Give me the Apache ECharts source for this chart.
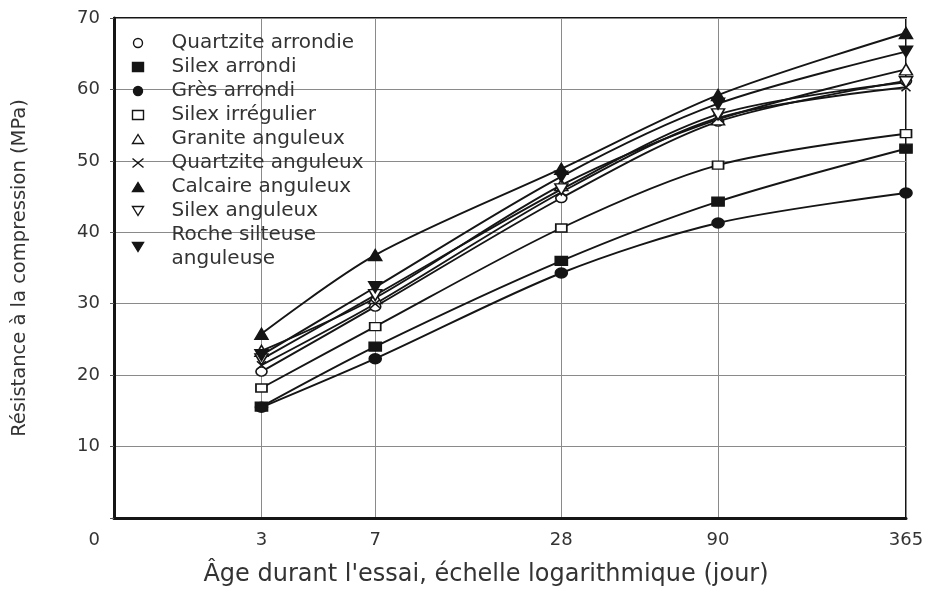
<!DOCTYPE html>
<html><head><meta charset="utf-8">
<script src="https://cdn.jsdelivr.net/npm/echarts@6/dist/echarts.min.js"></script>
<style>html,body{margin:0;padding:0;background:#fff}#c{width:928px;height:592px}</style>
</head><body><div id="c"></div>
<script>
// ---- data ----
const days = [3, 7, 28, 90, 365];
const xTickLabels = [3, 7, 28, 90, 365];
const seriesNames = ['Quartzite arrondie', 'Silex arrondi', 'Grès arrondi', 'Silex irrégulier',
  'Granite anguleux', 'Quartzite anguleux', 'Calcaire anguleux', 'Silex anguleux', 'Roche silteuse anguleuse'];
const quartziteArrondie = [20.5, 29.6, 44.8, 55.5, 61.2];
const silexArrondi      = [15.6, 24.0, 36.0, 44.3, 51.7];
const gresArrondi       = [15.5, 22.3, 34.3, 41.3, 45.5];
const silexIrregulier   = [18.2, 26.8, 40.6, 49.4, 53.8];
const graniteAnguleux   = [23.4, 30.8, 46.6, 55.8, 62.8];
const quartziteAnguleux = [21.4, 30.0, 45.6, 56.0, 60.3];
const calcaireAnguleux  = [25.8, 36.8, 48.9, 59.2, 67.9];
const silexAnguleux     = [22.2, 31.2, 46.0, 56.5, 61.0];
const rocheSilteuse     = [22.8, 32.3, 47.8, 58.0, 65.3];
const seriesValues = [quartziteArrondie, silexArrondi, gresArrondi, silexIrregulier,
  graniteAnguleux, quartziteAnguleux, calcaireAnguleux, silexAnguleux, rocheSilteuse];

// ---- styles ----
const FONT = 'DejaVu Sans';
const TXT = '#333';
const INK = '#151515';
const CROSS = 'path://M0,0L10,10M10,0L0,10';
const INV = 'path://M0,0L10,0L5,8.66Z';
const markerStyles = [
  {symbol: 'circle', fill: '#fff', size: [11, 9]},
  {symbol: 'rect', fill: INK, size: [12, 9]},
  {symbol: 'circle', fill: INK, size: [12, 10]},
  {symbol: 'rect', fill: '#fff', size: [11, 8]},
  {symbol: 'triangle', fill: '#fff', size: [13, 11]},
  {symbol: CROSS, fill: 'none', size: [9, 8]},
  {symbol: 'triangle', fill: INK, size: [13, 11]},
  {symbol: INV, fill: '#fff', size: [13, 11]},
  {symbol: INV, fill: INK, size: [13, 11]}
];

const chart = echarts.init(document.getElementById('c'));
const series = seriesNames.map((name, i) => ({
  name, type: 'line',
  data: days.map((d, j) => [d, seriesValues[i][j]]),
  smooth: 0.3,
  symbol: markerStyles[i].symbol,
  symbolSize: markerStyles[i].size,
  symbolKeepAspect: false,
  showAllSymbol: true,
  lineStyle: {color: INK, width: 1.9},
  itemStyle: {color: markerStyles[i].fill, borderColor: INK, borderWidth: 1.5},
  emphasis: {disabled: true},
  z: 3
}));

chart.setOption({
  animation: false,
  backgroundColor: '#fff',
  grid: {left: 114, right: 22, top: 18, bottom: 70, show: true, borderColor: INK, borderWidth: 2},
  legend: {
    orient: 'vertical', left: 125, top: 26, itemWidth: 11, itemHeight: 9, itemGap: 0,
    symbolKeepAspect: false, selectedMode: false,
    formatter: n => n === 'Roche silteuse anguleuse' ? 'Roche silteuse\nanguleuse' : n,
    textStyle: {fontFamily: FONT, fontSize: 20, color: TXT, lineHeight: 24, padding: [0, 0, 0, 23]},
    data: seriesNames.map((n, i) => ({
      name: n, icon: markerStyles[i].symbol,
      itemStyle: {color: markerStyles[i].fill, borderColor: INK, borderWidth: 1.4}
    }))
  },
  xAxis: {
    type: 'log', logBase: 10, min: 1, max: 365,
    axisLine: {show: true, lineStyle: {color: INK, width: 3}},
    axisTick: {show: false, customValues: xTickLabels},
    axisLabel: {customValues: xTickLabels, color: TXT, fontFamily: FONT, fontSize: 18, margin: 13},
    splitLine: {show: true, lineStyle: {color: '#8a8a8a', width: 1}},
    minorTick: {show: false}, minorSplitLine: {show: false},
    name: "Âge durant l'essai, échelle logarithmique (jour)",
    nameLocation: 'middle', nameGap: 45,
    nameTextStyle: {fontFamily: FONT, fontSize: 24, color: TXT, padding: [0, 48, 0, 0]}
  },
  yAxis: {
    type: 'value', min: 0, max: 70, interval: 10,
    axisLine: {show: true, lineStyle: {color: INK, width: 3}},
    axisTick: {show: true, length: 4, lineStyle: {color: '#555'}},
    axisLabel: {
      color: TXT, fontFamily: FONT, fontSize: 18, margin: 14,
      formatter: v => v === 0 ? '{z|0}' : String(v),
      rich: {z: {padding: [44, 0, 0, 0], fontFamily: FONT, fontSize: 18, color: TXT}}
    },
    splitLine: {show: true, lineStyle: {color: '#8a8a8a', width: 1}},
    name: 'Résistance à la compression (MPa)',
    nameLocation: 'middle', nameGap: 84,
    nameTextStyle: {fontFamily: FONT, fontSize: 19.5, color: TXT}
  },
  series
});
</script></body></html>
